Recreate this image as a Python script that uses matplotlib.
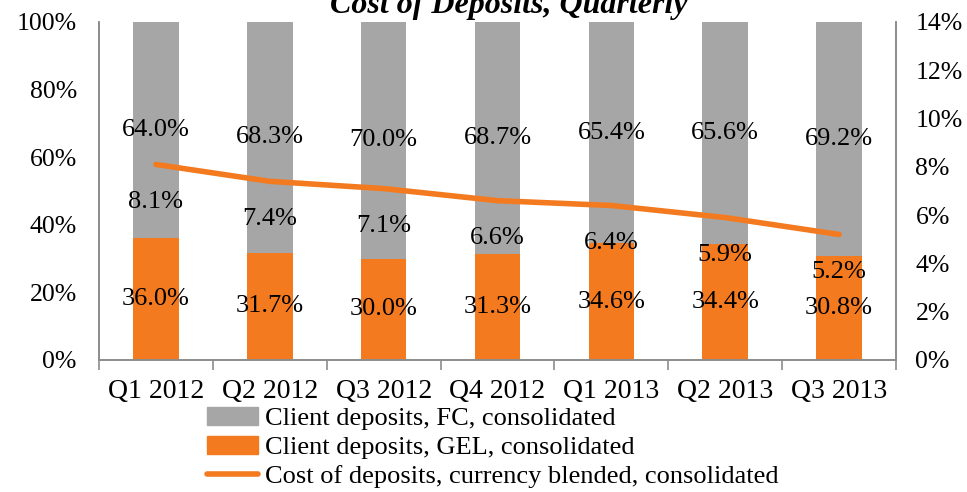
import matplotlib
matplotlib.use("Agg")
import matplotlib.pyplot as plt
import numpy as np
from matplotlib.ticker import FuncFormatter, FixedLocator
from matplotlib.patches import Patch
from matplotlib.lines import Line2D

categories = ["Q1 2012", "Q2 2012", "Q3 2012", "Q4 2012", "Q1 2013", "Q2 2013", "Q3 2013"]
fc_share = [64.0, 68.3, 70.0, 68.7, 65.4, 65.6, 69.2]
gel_share = [36.0, 31.7, 30.0, 31.3, 34.6, 34.4, 30.8]
cost_of_deposits = [8.1, 7.4, 7.1, 6.6, 6.4, 5.9, 5.2]

GRAY = "#A6A6A6"
ORANGE = "#F47A20"
SPINE = "#8C8C8C"

plt.rcParams["font.family"] = ["Liberation Serif", "DejaVu Serif"]

fig = plt.figure(figsize=(9.67, 4.92), dpi=100)
W, H = 967, 492
left, right, top, bottom = 99, 896, 22, 360
ax = fig.add_axes([left / W, 1 - bottom / H, (right - left) / W, (bottom - top) / H])
ax2 = ax.twinx()

x = np.arange(len(categories))
bw = 0.4
ax.bar(x, gel_share, bw, color=ORANGE, label="Client deposits, GEL, consolidated", zorder=2)
ax.bar(x, fc_share, bw, bottom=gel_share, color=GRAY, label="Client deposits, FC, consolidated", zorder=2)

FS = 19
for i in range(len(x)):
    ax.text(x[i], gel_share[i] / 2, f"{gel_share[i]:.1f}%", ha="center", va="center", fontsize=FS, zorder=3)
    ax.text(x[i], gel_share[i] + fc_share[i] / 2, f"{fc_share[i]:.1f}%", ha="center", va="center", fontsize=FS, zorder=3)

ax.set_xlim(-0.5, len(x) - 0.5)
ax.set_ylim(0, 100)
ax.yaxis.set_major_locator(FixedLocator([0, 20, 40, 60, 80, 100]))
ax.yaxis.set_major_formatter(FuncFormatter(lambda v, p: f"{v:.0f}%"))

ax2.plot(x, cost_of_deposits, color=ORANGE, lw=4, solid_capstyle="round", zorder=4,
         label="Cost of deposits, currency blended, consolidated")
for i in range(len(x)):
    ax2.annotate(f"{cost_of_deposits[i]:.1f}%", (x[i], cost_of_deposits[i]), xytext=(0, -27),
                 textcoords="offset points", ha="center", va="center", fontsize=FS, zorder=5)
ax2.set_ylim(0, 14)
ax2.yaxis.set_major_locator(FixedLocator([0, 2, 4, 6, 8, 10, 12, 14]))
ax2.yaxis.set_major_formatter(FuncFormatter(lambda v, p: f"{v:.0f}%"))

ax.set_zorder(1)
ax2.set_zorder(2)
ax2.patch.set_visible(False)

# x ticks: labels at centers, tick marks at boundaries
ax.set_xticks(x)
ax.set_xticklabels(categories, fontsize=20)
ax.set_xticks(np.arange(-0.5, len(x), 1.0), minor=True)
ax.tick_params(axis="x", which="major", length=0, pad=14)
ax.tick_params(axis="x", which="minor", length=7, color=SPINE, width=1.2, direction="out")
ax.tick_params(axis="y", length=0, labelsize=18.5, pad=16)
ax2.tick_params(axis="y", length=0, labelsize=18.5, pad=14)

for a in (ax, ax2):
    a.spines["top"].set_visible(False)
    for s in ("left", "right", "bottom"):
        a.spines[s].set_color(SPINE)
        a.spines[s].set_linewidth(1.2)

# title (partially cut at top like the reference)
fig.text(509 / W, 1 - 6 / H, "Cost of Deposits, Quarterly", ha="center", va="center",
         fontsize=23, fontweight="bold", fontstyle="italic")

handles = [Patch(color=GRAY), Patch(color=ORANGE), Line2D([0], [0], color=ORANGE, lw=4, solid_capstyle="round")]
labels = ["Client deposits, FC, consolidated", "Client deposits, GEL, consolidated",
          "Cost of deposits, currency blended, consolidated"]
fig.legend(handles, labels, loc="upper left", bbox_to_anchor=(207 / W, 1 - 407 / H), frameon=False,
           fontsize=19, handlelength=1.95, handleheight=0.7, handletextpad=0.25, labelspacing=0.2,
           borderpad=0, borderaxespad=0)

fig.savefig("out.png", dpi=100)
